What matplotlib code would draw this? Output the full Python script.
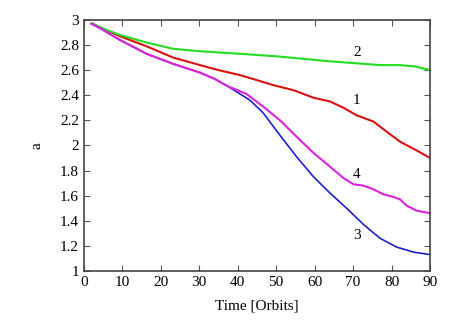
import matplotlib
matplotlib.use("Agg")
import matplotlib.pyplot as plt

# curve 1 (red)
t1 = [2, 5, 9.4, 16.3, 23.2, 30.2, 35, 40.6, 45, 49.3, 54.5, 59.7, 64, 67.5, 70.9, 75.3, 78.7, 82.2, 86.5, 90]
a1 = [2.97, 2.93, 2.87, 2.79, 2.70, 2.64, 2.60, 2.56, 2.52, 2.48, 2.44, 2.38, 2.35, 2.30, 2.24, 2.19, 2.11, 2.03, 1.96, 1.90]

# curve 2 (green)
t2 = [2.4, 5, 9.4, 16.3, 23.2, 30.2, 40.6, 50, 64, 77, 82, 86, 90]
a2 = [2.97, 2.93, 2.88, 2.82, 2.77, 2.75, 2.73, 2.71, 2.67, 2.64, 2.64, 2.63, 2.60]

# curve 3 (blue)
t3 = [2, 5, 9.4, 16.3, 23.2, 30.2, 34, 37.5, 43.2, 46.6, 51, 55.3, 59.7, 64, 68.3, 72.7, 77, 81.3, 85.7, 90]
a3 = [2.97, 2.92, 2.84, 2.73, 2.65, 2.58, 2.53, 2.47, 2.36, 2.26, 2.08, 1.91, 1.75, 1.62, 1.50, 1.37, 1.26, 1.19, 1.15, 1.13]

# curve 4 (magenta)
t4 = [2, 5, 9.4, 16.3, 23.2, 30.2, 34, 37.5, 42.3, 46.6, 51, 55.3, 59.7, 64, 67.5, 70.1, 72.7, 75.3, 77.9, 80.5, 82.2, 83.9, 86.5, 90]
a4 = [2.97, 2.92, 2.84, 2.73, 2.65, 2.58, 2.53, 2.47, 2.41, 2.31, 2.20, 2.07, 1.94, 1.83, 1.74, 1.69, 1.68, 1.65, 1.61, 1.59, 1.57, 1.52, 1.48, 1.46]

labels = ["1", "2", "3", "4"]
label_pos = [(71, 2.36), (71, 2.74), (71, 1.28), (71, 1.77)]

plt.rcParams["font.family"] = "Liberation Serif"
plt.rcParams["font.size"] = 11

fig = plt.figure(figsize=(4.58, 3.21), dpi=100)
ax = fig.add_axes([0.183, 0.156, 0.756, 0.782])

ax.plot(t1, a1, color="#dd1010", lw=1.5)
ax.plot(t2, a2, color="#22dd22", lw=1.5)
ax.plot(t3, a3, color="#2020cc", lw=1.2)
ax.plot(t4, a4, color="#dd22dd", lw=1.5)

for lab, (x, y) in zip(labels, label_pos):
    ax.text(x, y, lab, ha="center", va="center", fontsize=11)

ax.set_xlim(0, 90)
ax.set_ylim(1, 3)
ax.set_xticks(range(0, 91, 10))
ax.set_yticks([1, 1.2, 1.4, 1.6, 1.8, 2, 2.2, 2.4, 2.6, 2.8, 3])
ax.set_yticklabels(["1", "1.2", "1.4", "1.6", "1.8", "2", "2.2", "2.4", "2.6", "2.8", "3"])
ax.tick_params(direction="in", top=True, right=True, length=4, color="#555555")
for s in ax.spines.values():
    s.set_color("#444444")
    s.set_linewidth(1.2)

ax.set_xlabel("Time [Orbits]", labelpad=8)
ax.set_ylabel("a", labelpad=12)

fig.savefig("out.png", dpi=100)
